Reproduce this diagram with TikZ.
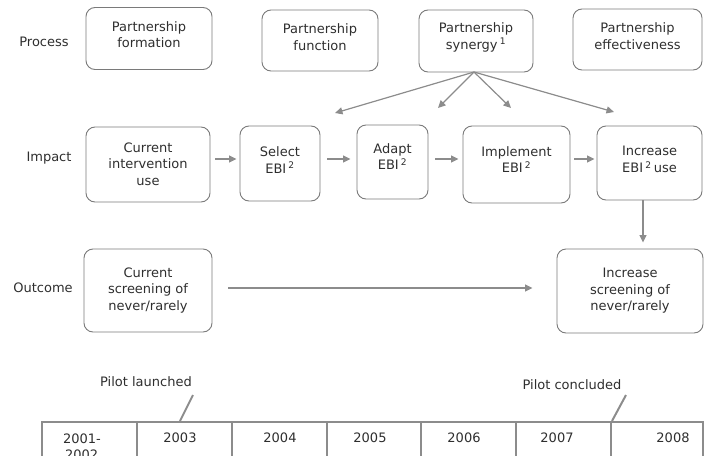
\documentclass[tikz,border=0pt]{standalone}
\usepackage{fontspec}
\setmainfont{DejaVu Sans}
\usetikzlibrary{arrows.meta}
\definecolor{linegray}{HTML}{8C8C8C}
\definecolor{boxgray}{HTML}{7A7A7A}
\definecolor{txt}{HTML}{2E2E2E}
\begin{document}
\begin{tikzpicture}[x=1pt,y=-1pt,
  box/.style={draw=boxgray, line width=0.9pt, rounded corners=9pt, inner sep=0pt},
  bt/.style={align=center, inner sep=0pt, font=\fontsize{13}{16.5}\selectfont, text=txt},
  lab/.style={font=\fontsize{13}{16.5}\selectfont, text=txt, inner sep=0pt},
  yr/.style={font=\fontsize{13}{16.5}\selectfont, text=txt, inner sep=0pt, align=left},
  arr/.style={draw=linegray, line width=1.2pt, -{Triangle[length=7.5pt,width=7pt]}},
  tl/.style={draw=linegray, line width=2.2pt}]
\useasboundingbox (0,0) rectangle (709,455);

% row labels
\node[lab] (lproc) at (44,42) {Process};
\node[lab] (limp) at (49,158) {Impact};
\node[lab] (lout) at (43,288) {Outcome};

% process boxes
\node[box, minimum width=126pt, minimum height=62pt,
  label={[bt,yshift=4pt]center:{Partnership\\formation}}] (form) at (149,38.5) {};
\node[box, minimum width=116pt, minimum height=61pt,
  label={[bt,yshift=3.5pt]center:{Partnership\\function}}] (func) at (320,40.5) {};
\node[box, minimum width=114pt, minimum height=62pt,
  label={[bt,yshift=3.5pt]center:{Partnership\\synergy\,\textsuperscript{1}}}] (syn) at (476,41) {};
\node[box, minimum width=129pt, minimum height=61pt,
  label={[bt,yshift=3.5pt]center:{Partnership\\effectiveness}}] (eff) at (637.5,39.5) {};

% impact boxes
\node[box, minimum width=124pt, minimum height=75pt,
  label={[bt,yshift=0.5pt]center:{Current\\intervention\\use}}] (cur) at (148,164.5) {};
\node[box, minimum width=80pt, minimum height=75pt,
  label={[bt,yshift=3.5pt]center:{Select\\EBI\,\textsuperscript{2}}}] (sel) at (280,163.5) {};
\node[box, minimum width=71pt, minimum height=74pt,
  label={[bt,yshift=5.5pt]center:{Adapt\\EBI\,\textsuperscript{2}}}] (ada) at (392.5,162) {};
\node[box, minimum width=107pt, minimum height=77pt,
  label={[bt,yshift=5pt]center:{Implement\\EBI\,\textsuperscript{2}}}] (imp) at (516.5,164.5) {};
\node[box, minimum width=105pt, minimum height=74pt,
  label={[bt,yshift=3.5pt]center:{Increase\\EBI\,\textsuperscript{2}\,use}}] (incu) at (649.5,163) {};

% outcome boxes
\node[box, minimum width=128pt, minimum height=83pt,
  label={[bt]center:{Current\\screening of\\never/rarely}}] (cscr) at (148,290.5) {};
\node[box, minimum width=146pt, minimum height=84pt,
  label={[bt]center:{Increase\\screening of\\never/rarely}}] (iscr) at (630,291) {};

% impact chain arrows
\draw[arr, shorten <=5pt, shorten >=3pt] (cur.east |- 0,159) -- (sel.west |- 0,159);
\draw[arr, shorten <=7pt, shorten >=6pt] (sel.east |- 0,159) -- (ada.west |- 0,159);
\draw[arr, shorten <=7pt, shorten >=4pt] (ada.east |- 0,159) -- (imp.west |- 0,159);
\draw[arr, shorten <=4pt, shorten >=2pt] (imp.east |- 0,159) -- (incu.west |- 0,159);

% synergy fan arrows
\coordinate (t1) at (335,113);
\coordinate (t2) at (438,108);
\coordinate (t3) at (511,108);
\coordinate (t4) at (614,112);
\coordinate (sb) at (474,72);
\draw[arr] (sb) -- (t1);
\draw[arr] (sb) -- (t2);
\draw[arr] (sb) -- (t3);
\draw[arr] (sb) -- (t4);

% vertical and outcome arrows
\draw[arr, shorten >=6pt] (incu.south -| 643,0) -- (iscr.north -| 643,0);
\draw[arr, shorten <=16pt, shorten >=24pt] (cscr.east |- 0,288) -- (iscr.west |- 0,288);

% timeline
\draw[tl] (42,460) -- (42,422) -- (703,422) -- (703,460);
\foreach \x in {137,232,327,421,516,611} \draw[tl] (\x,422) -- (\x,460);
\node[yr] (y1) at (83,447) {\hspace*{-2pt}2001-\\2002};
\node[yr] (y3) at (180,438) {2003};
\node[yr] (y4) at (280,438) {2004};
\node[yr] (y5) at (370,438) {2005};
\node[yr] (y6) at (464,438) {2006};
\node[yr] (y7) at (557,438) {2007};
\node[yr] (y8) at (673,438) {2008};

\node[lab] (pl) at (146,382) {Pilot launched};
\node[lab] (pc) at (572,385) {Pilot concluded};
\coordinate (plt) at (180,421);
\coordinate (pct) at (612,421);
\draw[linegray, line width=2pt] (193,395) -- (plt);
\draw[linegray, line width=2pt] (626,395) -- (pct);
\end{tikzpicture}
\end{document}
